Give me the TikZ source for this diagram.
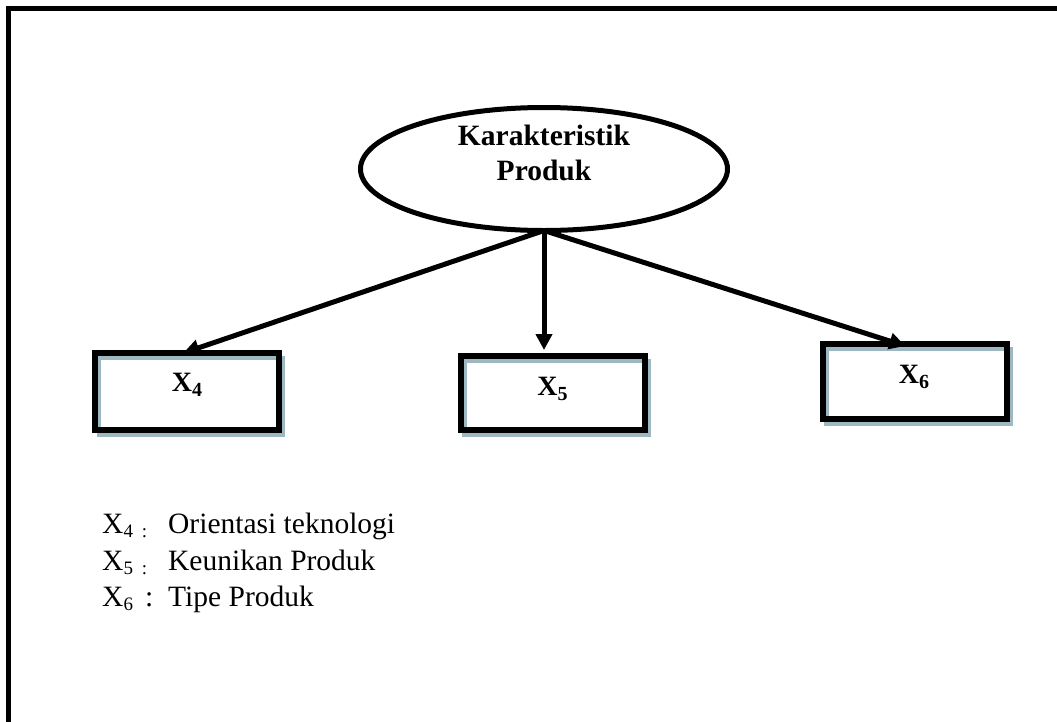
\documentclass[tikz,border=0pt]{standalone}
\usepackage{fontspec}
\setmainfont{Liberation Serif}
\usetikzlibrary{arrows.meta,shapes.geometric,calc,backgrounds}
\begin{document}
\begin{tikzpicture}[x=1pt,y=-1pt,
  framel/.style={line width=5pt},
  ell/.style={draw, ellipse, line width=5pt, minimum width=367pt, minimum height=123pt, inner sep=0pt, outer sep=0pt},
  title/.style={font=\fontsize{29.5}{35}\selectfont\bfseries, align=center, inner sep=0pt},
  vbox/.style={draw, line width=6pt, rectangle, outer sep=0pt, inner sep=0pt, minimum width=184pt},
  lbl/.style={inner sep=0pt, font=\fontsize{28}{30}\selectfont\bfseries},
  shadowline/.style={line width=4.5pt, draw={rgb,255:red,158;green,184;blue,194}},
  arr/.style={line width=5pt, -{Triangle[width=16pt,length=16pt]}},
  leg/.style={anchor=base west, inner sep=0pt, font=\fontsize{29.5}{35}\selectfont}
]
\useasboundingbox (0,0) rectangle (1057,721);
\draw[framel] (8.5,730) -- (8.5,8.5) -- (1065,8.5);

% ellipse
\node[ell] (kp) at (544,169) {};
\node[title] (kpt) at (544,153) {Karakteristik\\Produk};

% boxes
\node[vbox, minimum height=77pt] (x4) at (187,391.5) {};
\node[vbox, minimum height=74pt] (x5) at (552.5,393) {};
\node[vbox, minimum height=75pt] (x6) at (914.5,381.5) {};
\node[lbl] (x4t) at (187,385) {X\raisebox{-5pt}{\fontsize{20}{20}\selectfont 4}};
\node[lbl] (x5t) at (552.5,389) {X\raisebox{-5pt}{\fontsize{20}{20}\selectfont 5}};
\node[lbl] (x6t) at (914,377) {X\raisebox{-5pt}{\fontsize{20}{20}\selectfont 6}};

\begin{pgfonlayer}{background}
\foreach \b in {x4,x5,x6}{
  \draw[shadowline] ($(\b.north west)+(4,5)$) rectangle ($(\b.south east)+(4,5)$);
}
\end{pgfonlayer}

% arrows
\draw[arr] (kp.south) -- ($(x4.north west)!0.48!(x4.north east)$);
\draw[arr] (kp.south) -- ($(kp.south |- x5.north)+(0,-6)$);
\draw[arr] (kp.south) -- ($(x6.north west)!0.45!(x6.north east)+(0,2)$);

% legend
\node[leg] (l4) at (102,533) {\makebox[66pt][l]{X\raisebox{-4pt}{\fontsize{19}{19}\selectfont 4\hspace{9pt}:}}Orientasi teknologi};
\node[leg] (l5) at (102,570) {\makebox[66pt][l]{X\raisebox{-4pt}{\fontsize{19}{19}\selectfont 5\hspace{9pt}:}}Keunikan Produk};
\node[leg] (l6) at (102,606) {\makebox[66pt][l]{X\raisebox{-4pt}{\fontsize{19}{19}\selectfont 6}\hspace{12pt}:}Tipe Produk};
\end{tikzpicture}
\end{document}
